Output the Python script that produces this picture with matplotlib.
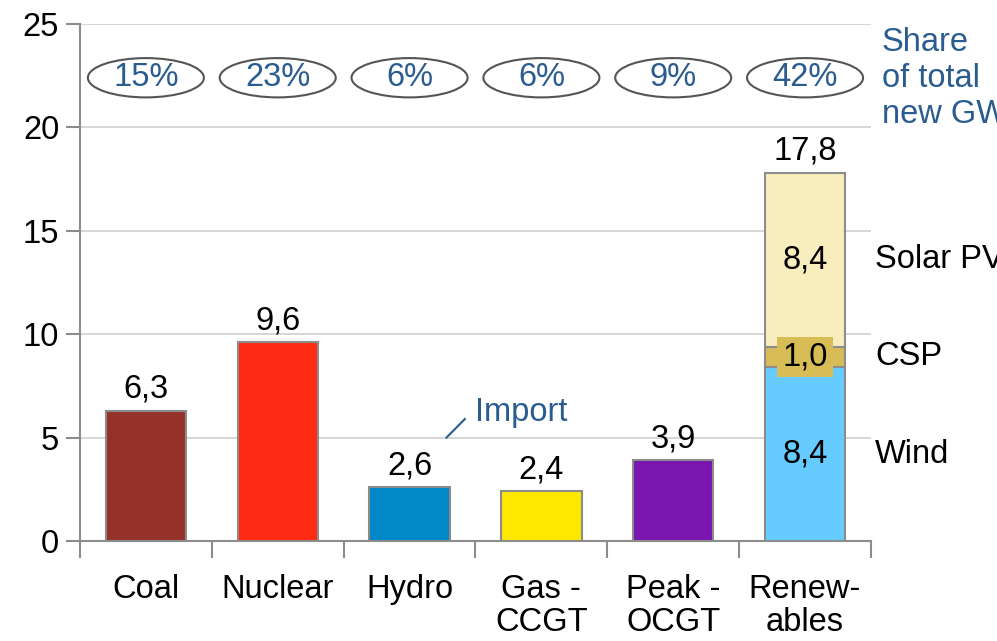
import matplotlib
matplotlib.use("Agg")
import matplotlib.pyplot as plt
from matplotlib.patches import Ellipse
import numpy as np

plt.rcParams['font.family'] = ['Liberation Sans', 'DejaVu Sans']

# data
categories = ["Coal", "Nuclear", "Hydro", "Gas -\nCCGT", "Peak -\nOCGT", "Renew-\nables"]
values = [6.3, 9.6, 2.6, 2.4, 3.9]
bar_colors = ["#96312A", "#FF2A12", "#0088C8", "#FFE800", "#7A16B0"]
shares = ["15%", "23%", "6%", "6%", "9%", "42%"]
renew_parts = ["Wind", "CSP", "Solar PV"]
renew_values = [8.4, 1.0, 8.4]
renew_colors = ["#66CCFF", "#D8BC55", "#F8EDBD"]
renew_total = 17.8

blue = "#2B5C8F"
edge = "#8C8C8C"
fs = 23.5

fig = plt.figure(figsize=(9.97, 6.41), dpi=100)
ax = fig.add_axes([0.0802, 0.156, 0.7934, 0.8066])

x = np.arange(len(categories))
w = 0.61

def fmt(v):
    return f"{v:.1f}".replace(".", ",")

ax.bar(x[:5], values, width=w, color=bar_colors, edgecolor=edge, linewidth=1.5, zorder=3)
for xi, v in zip(x[:5], values):
    ax.text(xi, v + 0.3, fmt(v), ha="center", va="bottom", fontsize=fs)

bottom = 0
for part, v, c in zip(renew_parts, renew_values, renew_colors):
    ax.bar(x[5], v, bottom=bottom, width=w, color=c, edgecolor=edge, linewidth=1.5, zorder=3)
    mid = bottom + v / 2
    if part == "CSP":
        ax.text(x[5], mid, fmt(v), ha="center", va="center", fontsize=fs, zorder=4,
                bbox=dict(boxstyle="square,pad=0.15", fc=c, ec="none"))
    else:
        ax.text(x[5], mid, fmt(v), ha="center", va="center", fontsize=fs, zorder=4)
    ax.text(5.53, mid, part, ha="left", va="center", fontsize=fs, clip_on=False)
    bottom += v
ax.text(x[5], renew_total + 0.3, fmt(renew_total), ha="center", va="bottom", fontsize=fs)

# share ellipses
for xi, s in zip(x, shares):
    ax.add_patch(Ellipse((xi, 22.4), 0.88, 1.9, fc="white", ec="#555555", lw=1.5, zorder=4))
    ax.text(xi, 22.4, s, ha="center", va="center", fontsize=fs, color=blue, zorder=5)
ax.text(5.58, 22.35, "Share\nof total\nnew GW", ha="left", va="center", fontsize=fs,
        color=blue, linespacing=1.2, clip_on=False)

# import note
ax.plot([2.28, 2.42], [5.0, 5.9], color=blue, lw=1.5, zorder=4)
ax.text(2.5, 6.2, "Import", ha="left", va="center", fontsize=fs, color=blue)

ax.set_xlim(-0.5, 5.5)
ax.set_ylim(0, 25)
ax.set_yticks([0, 5, 10, 15, 20, 25])
ax.yaxis.grid(True, color="#D0D0D0", lw=1.2, zorder=0)
ax.set_axisbelow(True)

ax.set_xticks(np.arange(-0.5, 6, 1))
ax.set_xticklabels([])
ax.set_xticks(x, minor=True)
ax.set_xticklabels(categories, minor=True, fontsize=fs, linespacing=1.05, va="top")
ax.tick_params(axis="x", which="minor", length=0, pad=24)
ax.tick_params(axis="x", which="major", length=12, width=1.5, color=edge)
ax.tick_params(axis="y", length=10, width=1.5, color=edge, labelsize=fs, pad=5)

for s in ["top", "right"]:
    ax.spines[s].set_visible(False)
for s in ["left", "bottom"]:
    ax.spines[s].set_color(edge)
    ax.spines[s].set_linewidth(1.5)

fig.savefig("out.png", dpi=100)
